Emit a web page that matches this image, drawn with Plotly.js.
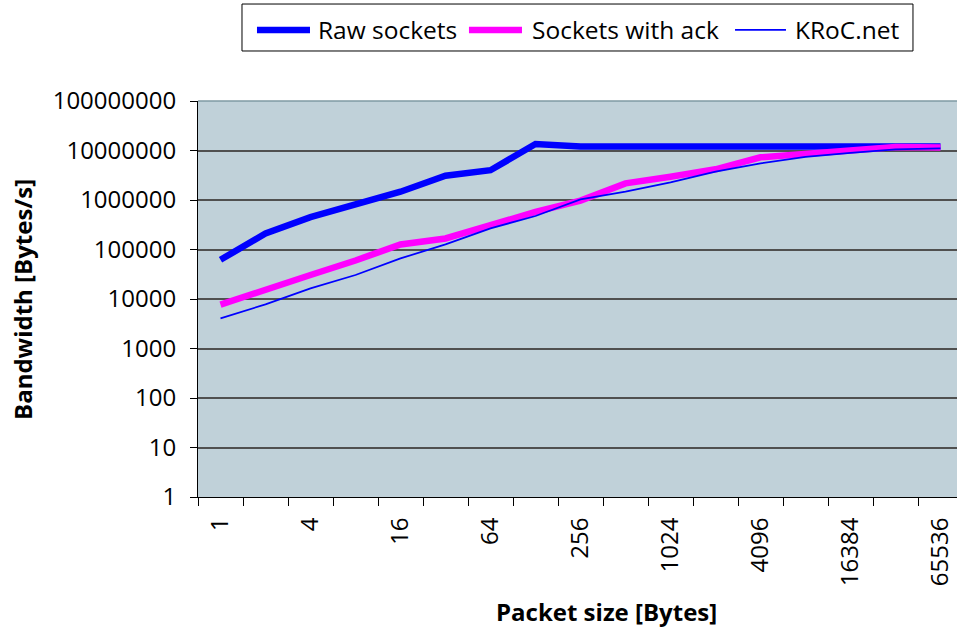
<!DOCTYPE html>
<html>
<head>
<meta charset="utf-8">
<script src="https://cdn.plot.ly/plotly-3.0.1.min.js"></script>
<style>
html, body { margin: 0; padding: 0; overflow: hidden; background: #ffffff; }
#chart { width: 966px; height: 633px; }
</style>
</head>
<body>
<div id="chart"></div>
<script>
// Packet sizes (categories)
var categories = ['1','2','4','8','16','32','64','128','256','512','1024','2048','4096','8192','16384','32768','65536'];
var tickLabels = ['1','','4','','16','','64','','256','','1024','','4096','','16384','','65536'];

// Bandwidth series [Bytes/s]
var rawSockets = [62000, 210000, 450000, 830000, 1470000, 3100000, 4000000, 13500000, 12000000, 12000000, 12000000, 12000000, 12000000, 12000000, 12000000, 12000000, 12000000];
var socketsWithAck = [7700, 15900, 30500, 60000, 126000, 167000, 313000, 573000, 970000, 2170000, 2960000, 4170000, 7300000, 8500000, 10000000, 11800000, 11500000];
var krocNet = [4070, 7800, 16400, 30500, 66000, 127000, 268000, 475000, 1030000, 1470000, 2280000, 3730000, 5500000, 7400000, 9000000, 10500000, 11100000];

var seriesNames = ['Raw sockets', 'Sockets with ack', 'KRoC.net'];

var yTickVals = [1, 10, 100, 1000, 10000, 100000, 1000000, 10000000, 100000000];
var yTickText = ['1', '10', '100', '1000', '10000', '100000', '1000000', '10000000', '100000000'];

var FONT = '"Open Sans", "Liberation Sans", sans-serif';
var colors = ['#0000FF', '#FF00FF', '#0000FF'];
var widths = [6.5, 6.5, 1.75];
var seriesData = [rawSockets, socketsWithAck, krocNet];

var traces = seriesData.map(function (vals, i) {
  return { x: categories, y: vals, name: seriesNames[i], type: 'scatter', mode: 'lines',
           line: { color: colors[i], width: widths[i] } };
});

// Legend (drawn as a boxed key above the plot, as in the original)
var legendGlyphX = [[0.0771, 0.1464], [0.3542, 0.4235], [0.7020, 0.7686]];
var legendTextX = [0.1542, 0.4340, 0.7778];
var legendGlyphY = 1.1793;
var legendTextY = 1.1818;

var shapes = [
  { type: 'line', xref: 'paper', yref: 'paper', x0: 0, x1: 1, y0: 1, y1: 1,
    line: { color: '#7f9aa3', width: 1.5 } },
  { type: 'rect', xref: 'paper', yref: 'paper', x0: 0.0575, x1: 0.9346, y0: 1.1263, y1: 1.2449,
    fillcolor: '#ffffff', line: { color: '#000000', width: 1 } }
];
var annotations = [
  { text: '<b>Packet size [Bytes]</b>', xref: 'paper', yref: 'paper',
    x: 0.5346, y: -0.2904, xanchor: 'center', yanchor: 'middle', showarrow: false,
    font: { family: FONT, size: 24, color: '#000000' } },
  { text: '<b>Bandwidth [Bytes/s]</b>', xref: 'paper', yref: 'paper',
    x: -0.2301, y: 0.5, xanchor: 'center', yanchor: 'middle', showarrow: false, textangle: -90,
    font: { family: FONT, size: 24, color: '#000000' } }
];
seriesNames.forEach(function (name, i) {
  shapes.push({ type: 'line', xref: 'paper', yref: 'paper',
    x0: legendGlyphX[i][0], x1: legendGlyphX[i][1], y0: legendGlyphY, y1: legendGlyphY,
    line: { color: colors[i], width: widths[i] } });
  annotations.push({ text: name, xref: 'paper', yref: 'paper',
    x: legendTextX[i], y: legendTextY, xanchor: 'left', yanchor: 'middle', showarrow: false,
    font: { family: FONT, size: 24.5, color: '#000000' } });
});

var layout = {
  width: 966,
  height: 633,
  margin: { l: 198, r: 3, t: 101, b: 136 },
  paper_bgcolor: '#ffffff',
  plot_bgcolor: '#C0D1D9',
  font: { family: FONT, size: 24, color: '#000000' },
  showlegend: false,
  xaxis: {
    type: 'category',
    categoryorder: 'array',
    categoryarray: categories,
    range: [-0.5, 16.5],
    tickmode: 'array',
    tickvals: categories,
    ticktext: tickLabels,
    tickson: 'boundaries',
    tickangle: -90,
    ticks: 'outside',
    ticklen: 8,
    tickcolor: '#000000',
    tickwidth: 1,
    showline: true,
    linecolor: '#000000',
    linewidth: 1,
    showgrid: false,
    zeroline: false,
    ticklabelstandoff: 10,
    tickfont: { family: FONT, size: 24, color: '#000000' },
    fixedrange: true
  },
  yaxis: {
    type: 'log',
    range: [0, 8],
    tickmode: 'array',
    tickvals: yTickVals,
    ticktext: yTickText,
    ticks: 'outside',
    ticklen: 7,
    tickcolor: '#000000',
    tickwidth: 1,
    showline: true,
    linecolor: '#000000',
    linewidth: 1,
    showgrid: true,
    gridcolor: '#505050',
    gridwidth: 2,
    zeroline: false,
    ticklabelstandoff: 9,
    tickfont: { family: FONT, size: 24, color: '#000000' },
    fixedrange: true
  },
  shapes: shapes,
  annotations: annotations
};

Plotly.newPlot('chart', traces, layout, { displayModeBar: false, staticPlot: true });
</script>
</body>
</html>
